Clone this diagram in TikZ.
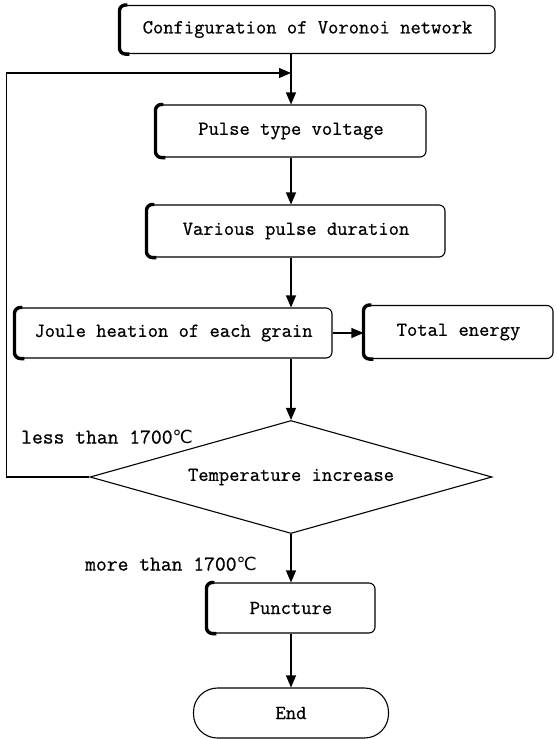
\documentclass[tikz,border=0pt]{standalone}
\usepackage{fontspec}
\newfontfamily\flowfont{Latin Modern Mono}[FakeBold=0.7]
\newfontfamily\degfont{DejaVu Sans}
\usetikzlibrary{shapes.geometric,arrows.meta}
\newcommand{\degC}{{\degfont\fontsize{18}{20}\selectfont ℃}}
% thick left edge of a box
\newcommand{\leftedge}[1]{%
  \draw[line width=3.4pt, rounded corners=6pt] ([xshift=8pt]#1.north west) -- (#1.north west) -- (#1.south west) -- ([xshift=10pt]#1.south west);}
\tikzset{
  blok/.style={draw, rounded corners=6pt, line width=1.1pt, inner sep=0pt},
  lbl/.style={inner sep=0pt, font=\flowfont\fontsize{21}{24}\selectfont}
}
\begin{document}
\begin{tikzpicture}[x=1pt, y=-1pt, >={Triangle[length=12pt,width=10pt]},
    font=\flowfont\fontsize{20}{23}\selectfont]
    \useasboundingbox (0,0) rectangle (557,739);

    %%%%%%%%%% Nodes %%%%%%%%%%
    \node[blok, minimum width=375pt, minimum height=48pt] (cfg) at (307.5,29.5) {Configuration of Voronoi network};
    \node[blok, minimum width=270pt, minimum height=52pt] (pulse) at (291,131) {Pulse type voltage};
    \node[blok, minimum width=298pt, minimum height=52pt] (dur) at (296,231) {Various pulse duration};
    \node[blok, minimum width=317pt, minimum height=50pt] (joule) at (173.5,333) {Joule heation of each grain};
    \node[blok, minimum width=189pt, minimum height=53pt] (total) at (458.5,332) {Total energy};
    \node[draw, diamond, aspect=3.56, line width=1.1pt, inner sep=0pt, minimum width=402pt, minimum height=113pt] (temp) at (291,477) {Temperature increase};
    \node[blok, minimum width=168pt, minimum height=50pt] (punct) at (291,608) {Puncture};
    \node[blok, rounded corners=24pt, minimum width=195pt, minimum height=50pt] (end) at (291,713) {End};

    \foreach \b in {cfg,pulse,dur,joule,total,punct}
        {\leftedge{\b}}

    \node[lbl] (less) at (107,437) {less than 1700\degC};
    \node[lbl] (more) at (171,564) {more than 1700\degC};

    %%%%%%%%% Arrows %%%%%%%%%
    \coordinate (join) at (291,73);
    \draw[->, line width=1.1pt] (cfg.south -| pulse.north) -- (pulse.north);
    \draw[->, line width=1.1pt] (temp.west) -- ++(-83,0) |- (join);
    \draw[->, line width=1.1pt] (pulse.south) -- (pulse.south |- dur.north);
    \draw[->, line width=1.1pt] (pulse.south |- dur.south) -- (pulse.south |- joule.north);
    \draw[->, line width=1.1pt] (joule.east) -- (joule.east -| total.west);
    \draw[->, line width=1.1pt] (temp.north |- joule.south) -- (temp.north);
    \draw[->, line width=1.1pt] (temp.south) -- (punct.north);
    \draw[->, line width=1.1pt] (punct.south) -- (end.north);
\end{tikzpicture}
\end{document}
